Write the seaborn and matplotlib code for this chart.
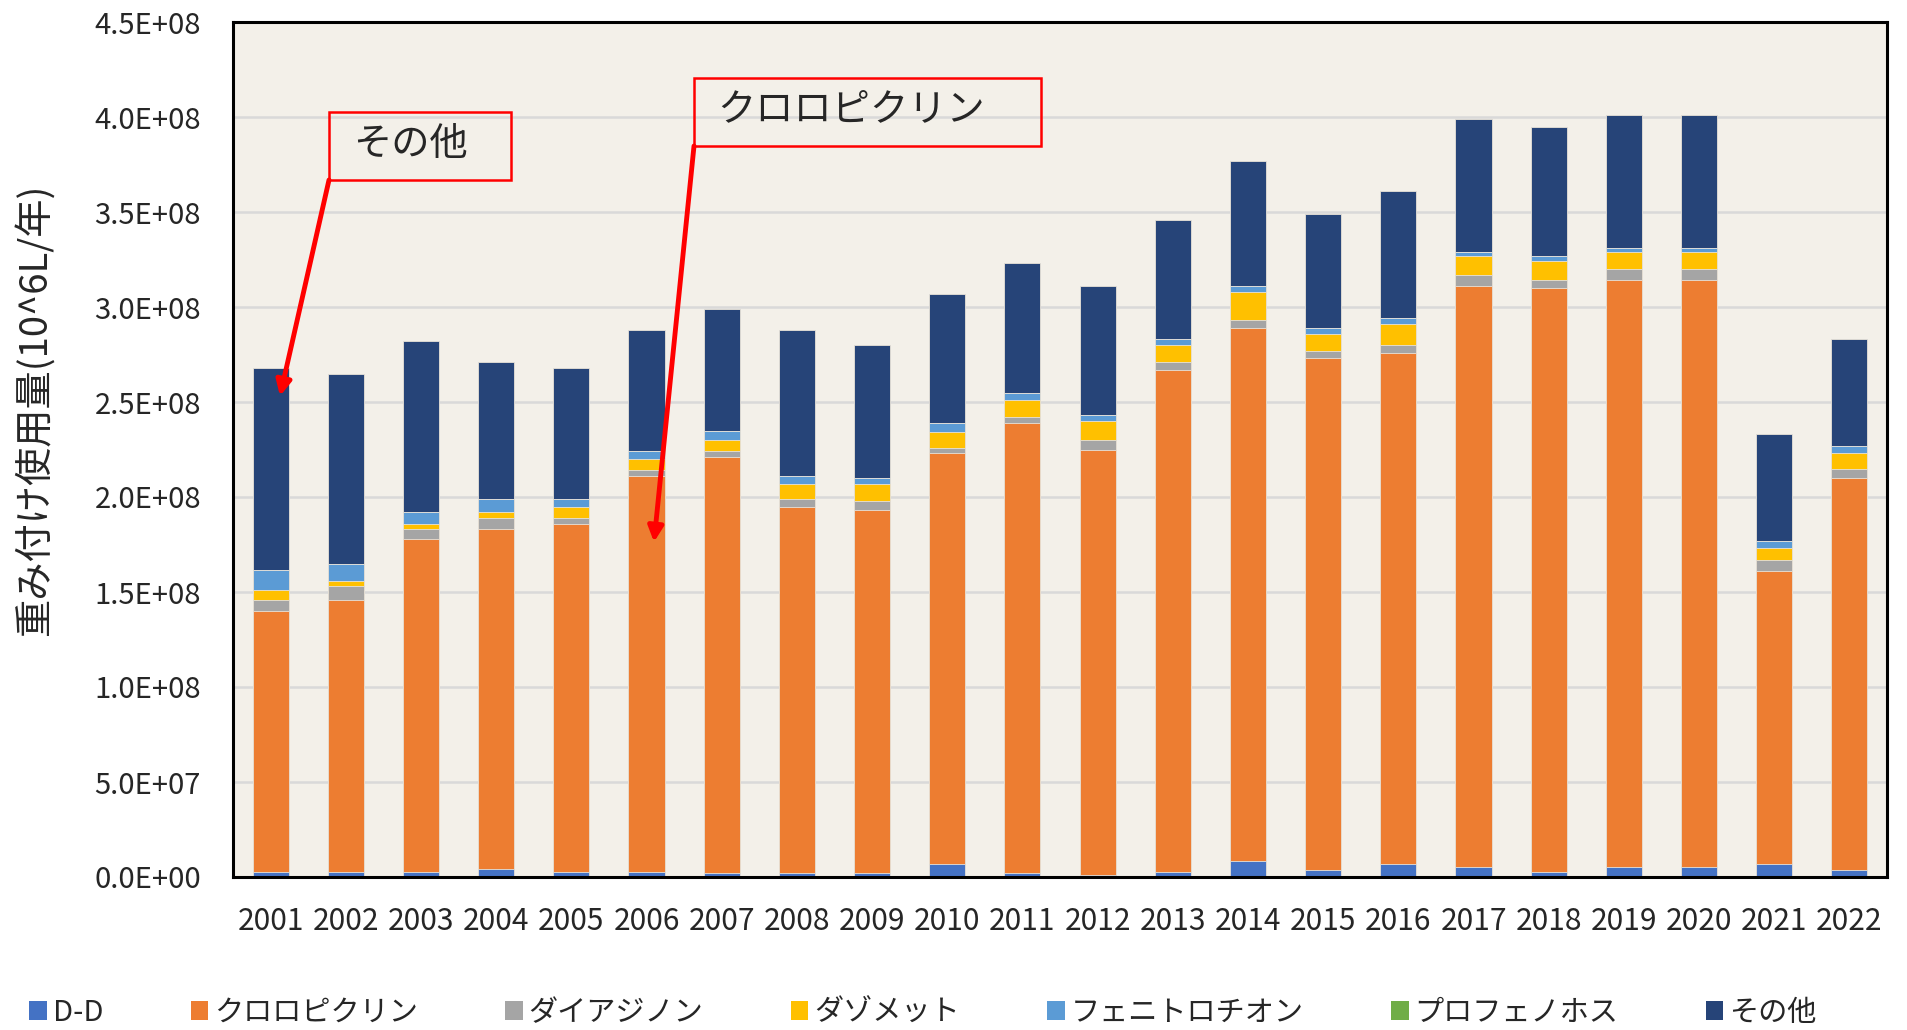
import matplotlib
matplotlib.use("Agg")
import matplotlib.pyplot as plt
from matplotlib.patches import Patch, Rectangle
from matplotlib.ticker import FuncFormatter, MultipleLocator
import seaborn as sns
import pandas as pd
import numpy as np

# 年ごとの重み付け使用量 (単位: 10^6、グラフから読み取り)
years = [str(y) for y in range(2001, 2023)]
dd = [2.6, 2.6, 2.6, 4.4, 2.6, 2.6, 2.3, 2.3, 2.3, 6.8, 2.3,
      1.0, 2.5, 8.3, 3.8, 6.8, 5.4, 2.5, 5.4, 5.4, 6.8, 3.8]
chloropicrin = [137.4, 143.4, 175.4, 178.6, 183.4, 208.4, 218.7, 192.7, 190.7, 216.2, 236.7,
                224.0, 264.5, 280.7, 269.2, 269.2, 305.6, 307.5, 308.6, 308.6, 154.2, 206.2]
diazinon = [6.0, 7.0, 5.0, 6.0, 3.0, 3.0, 3.0, 4.0, 5.0, 3.0, 3.0,
            5.0, 4.0, 4.0, 4.0, 4.0, 6.0, 4.0, 6.0, 6.0, 6.0, 5.0]
dazomet = [5.0, 3.0, 3.0, 3.0, 6.0, 6.0, 6.0, 8.0, 9.0, 8.0, 9.0,
           10.0, 9.0, 15.0, 9.0, 11.0, 10.0, 10.0, 9.0, 9.0, 6.0, 8.0]
fenitrothion = [10.5, 9.0, 6.0, 7.0, 4.0, 4.0, 5.0, 4.0, 3.0, 5.0, 4.0,
                3.0, 3.0, 3.0, 3.0, 3.0, 2.0, 3.0, 2.0, 2.0, 4.0, 4.0]
profenofos = [0.0] * 22
others = [106.5, 100.0, 90.0, 72.0, 69.0, 64.0, 64.0, 77.0, 70.0, 68.0, 68.0,
          68.0, 63.0, 66.0, 60.0, 67.0, 70.0, 68.0, 70.0, 70.0, 56.0, 56.0]

series_names = ["D-D", "クロロピクリン", "ダイアジノン", "ダゾメット",
                "フェニトロチオン", "プロフェノホス", "その他"]
colors = ["#4472C4", "#ED7D31", "#A5A5A5", "#FFC000",
          "#5B9BD5", "#70AD47", "#264478"]

sns.set_style("white")
plt.rcParams['font.family'] = ['Noto Sans CJK JP', 'DejaVu Sans']

W, H = 1907, 1030


def fig_xy(px, py):
    """pixel position (from top-left) -> figure fraction"""
    return (px / W, 1 - py / H)


df = pd.DataFrame({"year": years})
for name, vals in zip(series_names, [dd, chloropicrin, diazinon, dazomet,
                                      fenitrothion, profenofos, others]):
    df[name] = np.array(vals) * 1e6
cum = df[series_names].cumsum(axis=1)
cum["year"] = years

fig = plt.figure(figsize=(W / 100, H / 100), dpi=100)
ax = fig.add_axes([233 / W, 153 / H, (1887 - 233) / W, (877 - 22) / H])
ax.set_facecolor("#F3F0E9")

# stacked bars: draw cumulative totals from the top layer down
for name, col in reversed(list(zip(series_names, colors))):
    sns.barplot(data=cum, x="year", y=name, color=col, saturation=1,
                width=0.48, errorbar=None, ax=ax,
                edgecolor="#e8e2d8", linewidth=0.6)

ax.set_xlim(-0.5, len(years) - 0.5)
ax.set_ylim(0, 4.5e8)
ax.yaxis.set_major_locator(MultipleLocator(0.5e8))
ax.yaxis.set_major_formatter(FuncFormatter(lambda v, p: f"{v:.1E}"))
ax.yaxis.grid(True, color="#D9D9D9", linewidth=1.8)
ax.set_axisbelow(True)
ax.set_xlabel("")
ax.tick_params(axis="y", length=0, pad=23, labelsize=21)
ax.tick_params(axis="x", length=0, pad=21, labelsize=21.5)
for s in ax.spines.values():
    s.set_visible(True)
    s.set_color("black")
    s.set_linewidth(2.2)

ax.set_ylabel("重み付け使用量(10^6L/年)", fontsize=27.5, va="center")
ax.yaxis.set_label_coords((36 - 233) / (1887 - 233), (877 - 410) / (877 - 22))

# legend
handles = [Patch(facecolor=c, edgecolor="none") for c in colors]
fig.legend(handles, series_names, loc="center", bbox_to_anchor=(0.484, 1 - 1013 / H),
           ncol=7, frameon=False, fontsize=21, handlelength=0.6, handleheight=0.6,
           handletextpad=0.2, columnspacing=3.0)

# callouts
for (x0, y0, x1, y1), label, tx, tip in [
        ((329, 112, 511, 180), "その他", 410, (280, 396)),
        ((694, 78, 1041, 146), "クロロピクリン", 851, (654, 542))]:
    fig.add_artist(Rectangle(fig_xy(x0, y1), (x1 - x0) / W, (y1 - y0) / H,
                             transform=fig.transFigure, fill=False,
                             edgecolor="red", linewidth=1.8))
    fig.text(*fig_xy(tx, (y0 + y1) / 2 - 2), label, fontsize=27.5,
             ha="center", va="center")
    ax.annotate("", xy=fig_xy(*tip), xytext=fig_xy(x0, y1),
                xycoords="figure fraction", textcoords="figure fraction",
                arrowprops=dict(arrowstyle="-|>,head_length=0.9,head_width=0.45",
                                color="red", lw=3.5, shrinkA=0, shrinkB=0))

fig.savefig("out.png", dpi=100, facecolor="white")
